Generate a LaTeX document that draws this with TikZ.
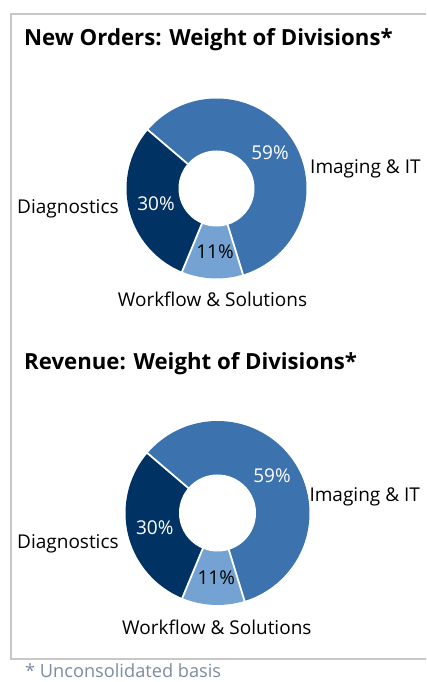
\documentclass[tikz,border=0pt]{standalone}
\usepackage{fontspec}
\setmainfont{Open Sans}
\usepackage{tikz}

\definecolor{imaging}{HTML}{3C73AE}
\definecolor{diagnostics}{HTML}{003364}
\definecolor{workflow}{HTML}{74A3D3}
\definecolor{framegray}{HTML}{C8C8C8}
\definecolor{notegray}{HTML}{7C8CA0}

\tikzset{
  charttitle/.style={anchor=base west, inner sep=0pt, font=\fontsize{22.2}{26}\selectfont\bfseries},
  divname/.style={inner sep=0pt, font=\fontsize{19}{22}\selectfont},
  pct/.style={divname, anchor=base},
  gap/.style={white, line width=1.8pt},
}

\begin{document}
\begin{tikzpicture}[x=1pt,y=1pt]
            \useasboundingbox (0,0) rectangle (426,682);

            % Frame round both charts
            \draw[framegray, line width=2pt] (426,668) -- (11,668) -- (11,23) -- (426,23);

            % New orders donut
            \coordinate (orders) at (216.5,493.5);
            \foreach \a/\b/\c in {139.5/-72.9/imaging, -72.9/-112.5/workflow, -112.5/-220.5/diagnostics}
                \fill[\c] (orders) -- ++(\a:90pt) arc[start angle=\a, end angle=\b, radius=90pt] -- cycle;
            \foreach \a in {139.5,-72.9,-112.5}
                \draw[gap] (orders) -- ++(\a:91pt);
            \fill[white] (orders) circle[radius=38pt];

            \node[charttitle] (ordtitle) at (24,636.3) {New Orders: Weight of Divisions*};
            \node[pct, white] (ordimgpct) at (270,522) {59\%};
            \node[divname, anchor=base west] (ordimg) at (310,508.7) {Imaging \& IT};
            \node[pct, white] (orddiagpct) at (156,471) {30\%};
            \node[divname, anchor=base west] (orddiag) at (17,468.7) {Diagnostics};
            \node[pct] (ordwfpct) at (215,423) {11\%};
            \node[divname, anchor=base] (ordwf) at (212.5,375.3) {Workflow \& Solutions};

            % Revenue donut
            \coordinate (revenue) at (217.5,169);
            \foreach \a/\b/\c in {139.5/-72.9/imaging, -72.9/-112.5/workflow, -112.5/-220.5/diagnostics}
                \fill[\c] (revenue) -- ++(\a:92pt) arc[start angle=\a, end angle=\b, radius=92pt] -- cycle;
            \foreach \a in {139.5,-72.9,-112.5}
                \draw[gap] (revenue) -- ++(\a:93pt);
            \fill[white] (revenue) circle[radius=38.5pt];

            \node[charttitle] (revtitle) at (24,312.7) {Revenue: Weight of Divisions*};
            \node[pct, white] (revimgpct) at (272,199.3) {59\%};
            \node[divname, anchor=base west] (revimg) at (309.3,180.3) {Imaging \& IT};
            \node[pct, white] (revdiagpct) at (154.7,147.7) {30\%};
            \node[divname, anchor=base west] (revdiag) at (17,133.7) {Diagnostics};
            \node[pct] (revwfpct) at (216.3,97) {11\%};
            \node[divname, anchor=base] (revwf) at (216.8,47) {Workflow \& Solutions};

            % Footnote
            \node[divname, notegray, anchor=base west, font=\fontsize{18.2}{22}\selectfont] (footnote) at (25,5) {* Unconsolidated basis};

        \end{tikzpicture}
\end{document}
